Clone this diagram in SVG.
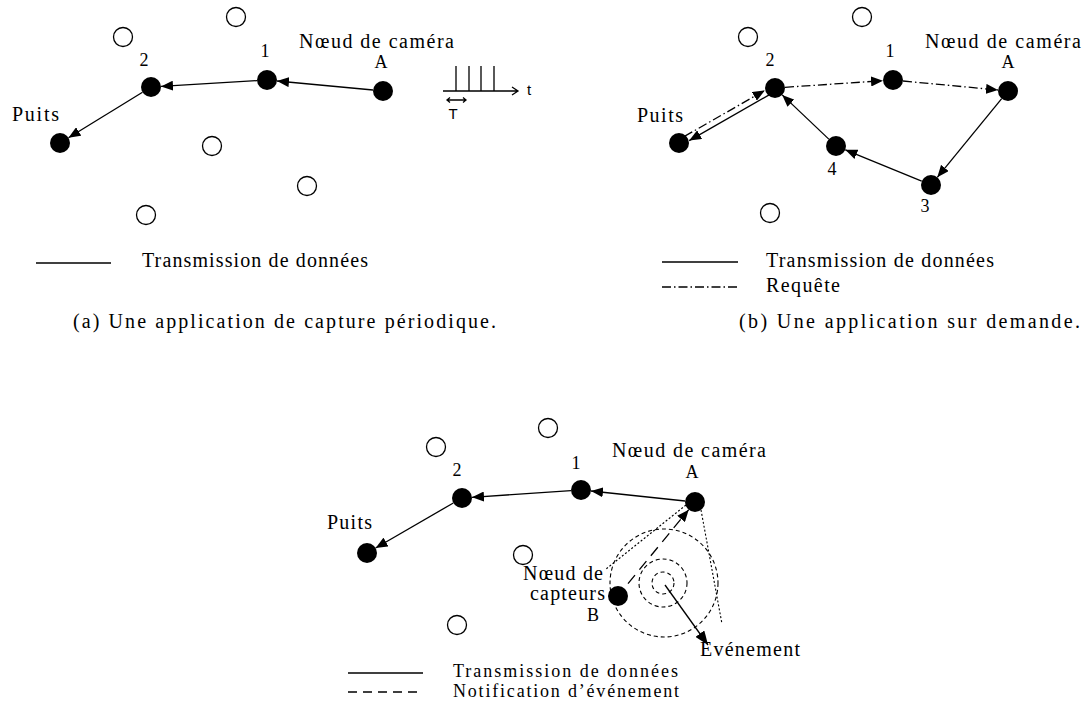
<svg xmlns="http://www.w3.org/2000/svg" width="1083" height="704" viewBox="0 0 1083 704">
<style>
.bg{fill:#fff}
.open{fill:#fff;stroke:#000;stroke-width:1.3}
.node{fill:#000}
.t{font-family:"Liberation Serif","Times New Roman",serif;font-size:20px;fill:#000}
.ts{font-family:"Liberation Serif","Times New Roman",serif;font-size:18px;fill:#000}
.lbl{font-family:"Liberation Serif","Times New Roman",serif;font-size:18px;fill:#000;text-anchor:middle}
.sans{font-family:"Liberation Sans",Arial,sans-serif;font-size:15px;fill:#000}
.solid{stroke:#000;stroke-width:1.3;fill:none}
.dd{stroke:#000;stroke-width:1.3;fill:none;stroke-dasharray:9 3 1.5 3}
.dash{stroke:#000;stroke-width:1.3;fill:none;stroke-dasharray:11 7}
.dcirc{stroke:#000;stroke-width:1.1;fill:none;stroke-dasharray:4 3}
.dot{stroke:#000;stroke-width:1.1;fill:none;stroke-dasharray:2 2}
.arr{marker-end:url(#ah)}
</style>
<defs>
<marker id="ah" viewBox="0 0 12 10" refX="12" refY="5" markerWidth="12" markerHeight="10" markerUnits="userSpaceOnUse" orient="auto"><path d="M0,0 L12,5 L0,10 z" fill="#000"/></marker>
<marker id="ahb" viewBox="0 0 14 11" refX="14" refY="5.5" markerWidth="14" markerHeight="11" markerUnits="userSpaceOnUse" orient="auto"><path d="M0,0 L14,5.5 L0,11 z" fill="#000"/></marker>
</defs>
<rect class="bg" x="0" y="0" width="1083" height="704"/>

<!-- ===== Panel (a) ===== -->
<g id="a-open">
<circle class="open" cx="236" cy="17" r="9.5"/>
<circle class="open" cx="123" cy="37" r="9.5"/>
<circle class="open" cx="212" cy="146" r="9.5"/>
<circle class="open" cx="307" cy="186" r="9.5"/>
<circle class="open" cx="146" cy="215" r="9.5"/>
</g>
<g id="a-puits"><circle class="node" cx="60" cy="143" r="10"/><text class="t" x="12" y="121" textLength="47">Puits</text></g>
<g id="a-n2"><circle class="node" cx="151" cy="87" r="10"/><text class="lbl" x="144" y="66">2</text></g>
<g id="a-n1"><circle class="node" cx="267" cy="80" r="10"/><text class="lbl" x="265" y="57">1</text></g>
<g id="a-A"><circle class="node" cx="383" cy="91" r="10"/><text class="lbl" x="381" y="68">A</text><text class="t" x="299" y="48" textLength="155">Nœud de caméra</text></g>
<g id="a-connectors">
<line class="solid arr" x1="373" y1="90" x2="277" y2="81"/>
<line class="solid arr" x1="257" y1="80.6" x2="161" y2="86.4"/>
<line class="solid arr" x1="142.5" y1="92.2" x2="68.5" y2="137.8"/>
</g>
<g id="a-signal">
<path class="solid" d="M443,91 L518,91 M512,87 L518,91 L512,95 M456,91 L456,66 M469,91 L469,66 M481,91 L481,66 M494,91 L494,66"/>
<path class="solid" stroke-width="1" d="M447,100 L466,100 M450,97.5 L447,100 L450,102.5 M463,97.5 L466,100 L463,102.5"/>
<text class="sans" x="527" y="95">t</text>
<text class="sans" x="453" y="119" text-anchor="middle">T</text>
</g>
<g id="a-legend">
<line class="solid" x1="36" y1="263" x2="111" y2="263"/>
<text class="t" x="142" y="267" textLength="226">Transmission de données</text>
</g>
<text class="t" x="73" y="328" textLength="423">(a) Une application de capture périodique.</text>

<!-- ===== Panel (b) ===== -->
<g id="b-open">
<circle class="open" cx="748" cy="37" r="9.5"/>
<circle class="open" cx="862" cy="17" r="9.5"/>
<circle class="open" cx="770" cy="213" r="9.5"/>
</g>
<g id="b-puits"><circle class="node" cx="679" cy="143" r="10"/><text class="t" x="637" y="122" textLength="46">Puits</text></g>
<g id="b-n2"><circle class="node" cx="775" cy="88" r="10"/><text class="lbl" x="770" y="66">2</text></g>
<g id="b-n1"><circle class="node" cx="893" cy="80" r="10"/><text class="lbl" x="890" y="57">1</text></g>
<g id="b-A"><circle class="node" cx="1008" cy="91" r="10"/><text class="lbl" x="1008" y="68">A</text><text class="t" x="925" y="48" textLength="156">Nœud de caméra</text></g>
<g id="b-n4"><circle class="node" cx="836" cy="146" r="10"/><text class="lbl" x="832" y="175">4</text></g>
<g id="b-n3"><circle class="node" cx="931" cy="185" r="10"/><text class="lbl" x="925" y="212">3</text></g>
<g id="b-connectors">
<line class="dd arr" x1="684.4" y1="136.4" x2="764.8" y2="90.4"/>
<line class="solid arr" x1="769.6" y1="94.6" x2="689.2" y2="140.6"/>
<line class="dd arr" x1="785" y1="87.3" x2="883" y2="80.7"/>
<line class="dd arr" x1="903" y1="81" x2="998" y2="90"/>
<line class="solid arr" x1="1001.7" y1="98.7" x2="937.3" y2="177.3"/>
<line class="solid arr" x1="921.7" y1="181.2" x2="845.3" y2="149.8"/>
<line class="solid arr" x1="828.8" y1="139.1" x2="782.2" y2="94.9"/>
</g>
<g id="b-legend">
<line class="solid" x1="662" y1="262" x2="738" y2="262"/>
<text class="t" x="766" y="267" textLength="228">Transmission de données</text>
<line class="dd" x1="662" y1="287" x2="738" y2="287"/>
<text class="t" x="766" y="292" textLength="74">Requête</text>
</g>
<text class="t" x="739" y="328" textLength="341">(b) Une application sur demande.</text>

<!-- ===== Panel (c) ===== -->
<g id="c-open">
<circle class="open" cx="436" cy="447" r="9.5"/>
<circle class="open" cx="548" cy="428" r="9.5"/>
<circle class="open" cx="523" cy="555" r="9.5"/>
<circle class="open" cx="457" cy="625" r="9.5"/>
</g>
<g id="c-event">
<circle class="dcirc" cx="663" cy="583" r="11"/>
<circle class="dcirc" cx="663" cy="583" r="24"/>
<circle class="dcirc" cx="664" cy="583" r="54"/>
<line class="solid" stroke-width="2.6" marker-end="url(#ahb)" x1="665" y1="585" x2="708" y2="645"/>
<text class="t" x="700" y="656" textLength="100">Evénement</text>
</g>
<g id="c-cone">
<line class="dot" x1="686" y1="505" x2="606" y2="569"/>
<line class="dot" x1="701" y1="510" x2="722" y2="624"/>
</g>
<g id="c-puits"><circle class="node" cx="367" cy="553" r="10"/><text class="t" x="327" y="529" textLength="45">Puits</text></g>
<g id="c-n2"><circle class="node" cx="462" cy="498" r="10"/><text class="lbl" x="457" y="476">2</text></g>
<g id="c-n1"><circle class="node" cx="581" cy="490" r="10"/><text class="lbl" x="576" y="469">1</text></g>
<g id="c-A"><circle class="node" cx="695" cy="502" r="10"/><text class="lbl" x="692" y="478">A</text><text class="t" x="612" y="457" textLength="154">Nœud de caméra</text></g>
<g id="c-B"><circle class="node" cx="618" cy="596" r="10"/>
<text class="t" x="523" y="580" textLength="80">Nœud de</text>
<text class="t" x="530" y="600" textLength="75">capteurs</text>
<text class="lbl" x="593" y="621">B</text></g>
<g id="c-connectors">
<line class="solid arr" x1="685" y1="501" x2="591" y2="491"/>
<line class="solid arr" x1="571" y1="490.7" x2="472" y2="497.3"/>
<line class="solid arr" x1="453.3" y1="503" x2="375.6" y2="548"/>
<line class="dash arr" x1="628" y1="583.6" x2="688.7" y2="509.7"/>
</g>
<g id="c-legend">
<line class="solid" x1="348" y1="673" x2="423" y2="673"/>
<text class="ts" x="453" y="677" textLength="225">Transmission de données</text>
<line class="solid" stroke-dasharray="9 6" x1="348" y1="692" x2="423" y2="692"/>
<text class="ts" x="453" y="697" textLength="226">Notification d’événement</text>
</g>
</svg>
